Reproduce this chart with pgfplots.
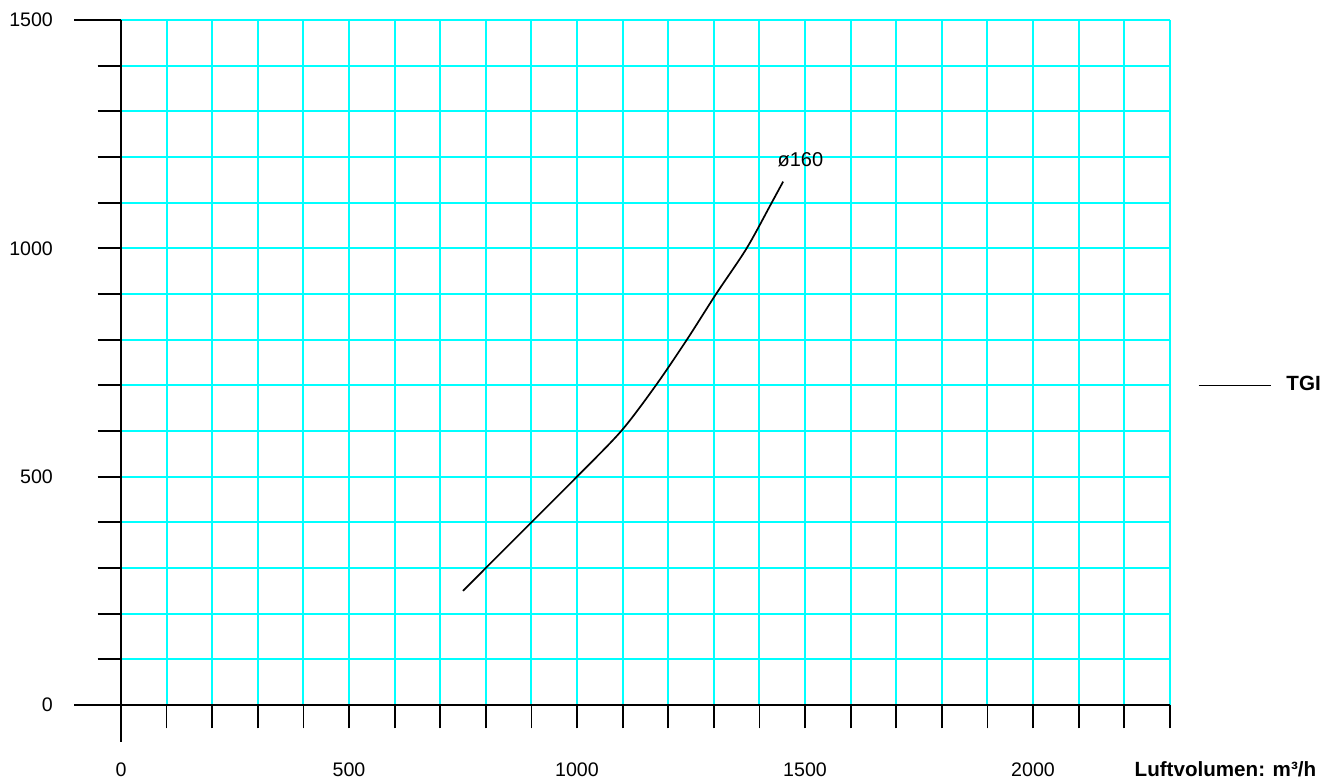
\documentclass[border=0pt]{standalone}
\usepackage{fontspec}
\setmainfont{Liberation Sans}
\usepackage{pgfplots}
\pgfplotsset{compat=1.18}
\definecolor{gridcyan}{RGB}{0,255,255}
\begin{document}
\begin{tikzpicture}
\begin{axis}[
  x=0.228pt, y=0.22833pt,
  xmin=0, xmax=2300, ymin=0, ymax=1500,
  axis line style={draw=none},
  clip=false,
  xtick={0,500,1000,1500,2000},
  minor xtick={100,200,300,400,600,700,800,900,1100,1200,1300,1400,1600,1700,1800,1900,2100,2200,2300},
  ytick={0,500,1000,1500},
  minor ytick={100,200,300,400,600,700,800,900,1100,1200,1300,1400},
  tick pos=left,
  tick align=outside,
  major tick length=11.7pt, minor tick length=11.7pt,
  tick style={black, line width=0.9pt},
  grid=both,
  grid style={gridcyan, line width=1pt},
  major grid style={gridcyan, line width=1pt},
  minor grid style={gridcyan, line width=1pt},
  scaled ticks=false,
  /pgf/number format/1000 sep={},
  /pgf/number format/assume math mode=true,
  xticklabel style={anchor=base, inner sep=0pt, yshift=-24.3pt, font=\fontsize{9.8}{12}\selectfont},
  yticklabel style={anchor=east, inner sep=0pt, xshift=-22.15pt, font=\fontsize{9.8}{12}\selectfont},
  xlabel={\textbf{Luftvolumen: m³/h}},
  xlabel style={at={(axis cs:2422,0)}, anchor=base, inner sep=0pt, yshift=-36pt, font=\fontsize{10.3}{12}\selectfont},
  legend image code/.code={\draw[#1, line width=0.5pt] (0pt,0pt) -- (36pt,0pt); \path (41.5pt,0pt);},
  legend style={draw=none, fill=none, at={(axis cs:2362,700.7)}, anchor=west, inner sep=0pt, outer sep=0pt, font=\fontsize{10.3}{12}\selectfont\bfseries},
]
\draw[black, line width=0.9pt] (axis cs:-103,0) -- (axis cs:2300,0);
\draw[black, line width=0.9pt] (axis cs:0,-81) -- (axis cs:0,1500);
\draw[black, line width=0.9pt] (axis cs:-103,1500) -- (axis cs:0,1500);
\addplot[black, line width=0.85pt, smooth] coordinates {
  (750,250) (800,300) (900,400) (1000,500) (1097,600) (1173,700)
  (1241,800) (1305,900) (1372,1000) (1427,1100) (1452,1146)
};
\addlegendentry{TGI}
\node[inner sep=0pt, font=\fontsize{10}{12}\selectfont] at (axis cs:1490,1193) {ø160};
\coordinate (bl) at (axis cs:-265.35,-170.8);
\coordinate (tr) at (axis cs:2655.7,1543.8);
\end{axis}
\pgfresetboundingbox
\useasboundingbox (bl) rectangle (tr);
\end{tikzpicture}
\end{document}
